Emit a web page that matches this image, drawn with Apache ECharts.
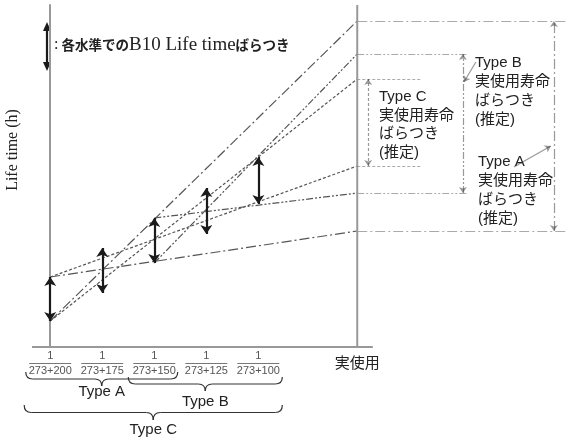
<!DOCTYPE html>
<html><head><meta charset="utf-8">
<script src="https://cdn.jsdelivr.net/npm/echarts@6/dist/echarts.min.js"></script>
<style>html,body{margin:0;padding:0;background:#fff}#c{width:568px;height:441px}</style>
</head><body><div id="c"></div>
<script>
// ---- data ----
const levels = [0, 1, 2, 3, 4];                      // test-temperature levels (1/(273+T))
const tempLabels = ['273+200', '273+175', '273+150', '273+125', '273+100'];
const useX = 5.9;                                     // actual-use position
const useLabel = '実使用';
const arrowLow = [26, 54, 84, 113, 143];              // B10 life lower bound per level
const arrowHigh = [70, 99, 129, 159, 190];            // B10 life upper bound per level
const typeNames = ['Type A', 'Type B', 'Type C'];
const typeFirst = [0, 2, 0];                          // first level used by each type
const typeSpan = [[0, 2], [2, 4], [0, 4]];            // level range of each type
const useMax = [326, 293, 268];                       // estimated max life at actual use
const useMin = [116, 154, 181];                       // estimated min life at actual use

// ---- layout / style ----
const X_MIN = -0.35, X_MAX = 9.95, Y_MAX = 342;
const dashes = [[10, 3, 2, 3], [7, 2, 2, 2, 2, 2], [3, 2]];
const lineColor = '#555';
const annotX = [9.68, 7.93, 6.11];
const extEnd = [9.95, 8.03, 7.14];
const axisEnd = 6.2;
const leaders = [[[8.91, 180], [9.62, 201]], [[8.18, 285], [7.95, 265]]];
const JP = '"Liberation Sans","Noto Sans CJK JP",sans-serif';

const chart = echarts.init(document.getElementById('c'));
const series = [];
typeNames.forEach((n, t) => {
  const f = typeFirst[t];
  [[arrowLow[f], useMax[t]], [arrowHigh[f], useMin[t]]].forEach(([a, b], k) => {
    series.push({
      type: 'line', name: n + (k ? ' min' : ' max'),
      data: [[levels[f], a], [useX, b]], symbol: 'none', silent: true, z: 2,
      lineStyle: { color: lineColor, width: 1.2, type: dashes[t] }
    });
  });
});
const ext = [], ann = [];
typeNames.forEach((n, t) => {
  [useMax[t], useMin[t]].forEach(v => ext.push({ coords: [[useX, v], [extEnd[t], v]], lineStyle: { type: dashes[t] } }));
  ann.push({ coords: [[annotX[t], useMin[t]], [annotX[t], useMax[t]]], lineStyle: { type: dashes[t] } });
});
series.push({ type: 'lines', coordinateSystem: 'cartesian2d', data: ext, symbol: 'none',
  lineStyle: { color: lineColor, width: 1.2 }, silent: true });
series.push({ type: 'lines', coordinateSystem: 'cartesian2d', data: ann, symbol: ['arrow', 'arrow'], symbolSize: 6,
  lineStyle: { color: '#333', width: 1.2 }, silent: true });
series.push({ type: 'lines', coordinateSystem: 'cartesian2d',
  data: leaders.map(c => ({ coords: c })), symbol: ['none', 'arrow'], symbolSize: 6,
  lineStyle: { color: '#333', width: 1.2 }, silent: true });
series.push({ type: 'lines', coordinateSystem: 'cartesian2d', z: 5, silent: true,
  data: levels.map((l, i) => ({ coords: [[l, arrowLow[i]], [l, arrowHigh[i]]] })),
  symbol: ['arrow', 'arrow'], symbolSize: 9, lineStyle: { color: '#1a1a1a', width: 2.2, opacity: 1 } });
series.push({ type: 'line', data: [[X_MIN, 0], [axisEnd, 0]], symbol: 'none', clip: false, silent: true,
  lineStyle: { color: '#999', width: 2 } });
series.push({ type: 'line', data: [[useX, 0], [useX, Y_MAX]], symbol: 'none', clip: false, silent: true,
  lineStyle: { color: '#999', width: 2 } });

chart.setOption({
  animation: false,
  backgroundColor: '#fff',
  grid: { left: 32, right: 0, top: 5, bottom: 94 },
  xAxis: {
    type: 'value', min: X_MIN, max: X_MAX,
    axisLine: { show: false }, axisTick: { show: false }, splitLine: { show: false },
    axisLabel: {
      customValues: levels.concat([useX]), margin: 3,
      formatter: v => {
        const i = levels.indexOf(v);
        if (i >= 0) return '{n|1}\n{bar| }\n{d|' + tempLabels[i] + '}';
        return '{u|' + useLabel + '}';
      },
      rich: {
        n: { fontFamily: 'Liberation Sans', fontSize: 11, color: '#555', lineHeight: 12 },
        bar: { width: 42, height: 1, lineHeight: 3, fontSize: 1, backgroundColor: '#777' },
        d: { fontFamily: 'Liberation Sans', fontSize: 11, color: '#555', lineHeight: 12 },
        u: { fontFamily: JP, fontSize: 15, color: '#222', lineHeight: 27 }
      }
    }
  },
  yAxis: {
    type: 'value', min: 0, max: Y_MAX,
    axisLine: { show: true, lineStyle: { color: '#999', width: 2 } },
    axisTick: { show: false }, axisLabel: { show: false }, splitLine: { show: false }
  },
  series
});

// ---- annotations (braces, texts) ----
const px = (x, y) => chart.convertToPixel({ gridIndex: 0 }, [x, y]);
function brace(xa, xb, y0, h, r) {
  const x1 = px(xa, 0)[0], x2 = px(xb, 0)[0], xm = (x1 + x2) / 2, ym = y0 + h / 2;
  const st = { stroke: '#333', lineWidth: 1.2, fill: null };
  return [
    { type: 'bezierCurve', shape: { x1: x1, y1: y0, x2: x1 + r, y2: ym, cpx1: x1, cpy1: ym }, style: st },
    { type: 'line', shape: { x1: x1 + r, y1: ym, x2: xm - r, y2: ym }, style: st },
    { type: 'bezierCurve', shape: { x1: xm - r, y1: ym, x2: xm, y2: y0 + h, cpx1: xm, cpy1: ym }, style: st },
    { type: 'bezierCurve', shape: { x1: xm, y1: y0 + h, x2: xm + r, y2: ym, cpx1: xm, cpy1: ym }, style: st },
    { type: 'line', shape: { x1: xm + r, y1: ym, x2: x2 - r, y2: ym }, style: st },
    { type: 'bezierCurve', shape: { x1: x2 - r, y1: ym, x2: x2, y2: y0, cpx1: x2, cpy1: ym }, style: st }
  ];
}
const braceY = [[372, 14, 392], [377, 14, 402], [405, 15, 430]];
const braceExt = [[-0.47, 0.45], [-0.5, 0.46], [-0.5, 0.46]];
let g = [];
typeNames.forEach((n, t) => {
  const a = typeSpan[t][0] + braceExt[t][0], b = typeSpan[t][1] + braceExt[t][1];
  g = g.concat(brace(a, b, braceY[t][0], braceY[t][1], 7));
  g.push({ type: 'text', x: (px(a, 0)[0] + px(b, 0)[0]) / 2, y: braceY[t][2],
    style: { text: n, font: '15px ' + JP, fill: '#222', align: 'center', verticalAlign: 'middle' } });
});
// y-axis name
g.push({ type: 'text', x: 12.5, y: 150, rotation: Math.PI / 2,
  style: { text: 'Life time (h)', font: '16px "Liberation Serif",serif', fill: '#222', align: 'center', verticalAlign: 'middle' } });
// legend arrow + text
g.push({ type: 'line', shape: { x1: 47, y1: 28, x2: 47, y2: 65 }, style: { stroke: '#1a1a1a', lineWidth: 2.2 } });
g.push({ type: 'polygon', shape: { points: [[47, 22], [43, 31], [51, 31]] }, style: { fill: '#1a1a1a' } });
g.push({ type: 'polygon', shape: { points: [[47, 71], [43, 62], [51, 62]] }, style: { fill: '#1a1a1a' } });
g.push({ type: 'text', x: 54, y: 45,
  style: {
    text: '{c|:}{j| 各水準での}{l|B10 Life time}{j|ばらつき}', verticalAlign: 'middle',
    rich: {
      c: { fontFamily: 'Liberation Serif', fontSize: 16, fill: '#222' },
      j: { fontFamily: '"Noto Sans CJK JP",sans-serif', fontSize: 13.5, fontWeight: 'bold', fill: '#222' },
      l: { fontFamily: 'Liberation Serif', fontSize: 19, fill: '#222' }
    }
  } });
// right-side texts
const notes = [
  { text: 'Type A\n実使用寿命\nばらつき\n(推定)', x: 478, y: 153, lh: 18.7 },
  { text: 'Type B\n実使用寿命\nばらつき\n(推定)', x: 475, y: 53, lh: 19 },
  { text: 'Type C\n実使用寿命\nばらつき\n(推定)', x: 379, y: 88, lh: 18.4 }
];
notes.forEach(o => g.push({ type: 'text', x: o.x, y: o.y,
  style: { text: o.text, font: '15px ' + JP, fill: '#222', lineHeight: o.lh, verticalAlign: 'top' } }));
chart.setOption({ graphic: g });
</script>
</body></html>
